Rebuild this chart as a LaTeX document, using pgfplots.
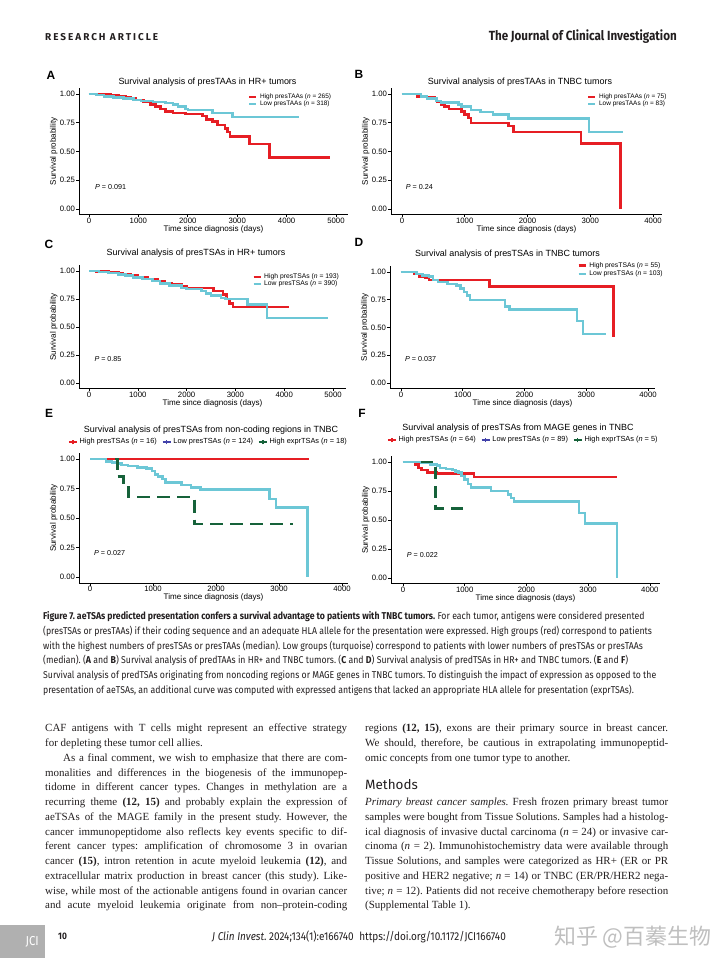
\documentclass[border=0pt]{standalone}
\usepackage{fontspec}
\usepackage{pgfplots}
\pgfplotsset{compat=1.18}
\setmainfont{Liberation Serif}
\newfontfamily\arial{Liberation Sans}
\newfontfamily\capfont[FakeStretch=0.88]{Fira Sans}
\newfontfamily\hdfont[LetterSpace=20]{Fira Sans}
\newfontfamily\secfont{Fira Sans}
\newfontfamily\cjk{Noto Sans CJK SC}
\frenchspacing

\definecolor{kmred}{RGB}{230,30,36}
\definecolor{kmturq}{RGB}{108,199,214}
\definecolor{kmgreen}{RGB}{22,98,58}
\definecolor{kmblue}{RGB}{66,66,170}
\definecolor{ink}{RGB}{35,31,32}

\pgfplotsset{
  km/.style={
    scale only axis, anchor=south west,
    axis x line*=bottom, axis y line*=left,
    axis line style={line width=0.8bp, black},
    tick style={line width=0.6bp, black},
    major tick length=2.6bp, tick align=outside,
    ymin=-0.05, ymax=1.05,
    ytick={0,0.25,0.5,0.75,1}, yticklabels={0.00,0.25,0.50,0.75,1.00},
    scaled ticks=false,
    tick label style={font=\fontsize{7.8}{8}\arial, black},
    xticklabel style={inner sep=0.8bp},
    yticklabel style={inner sep=1.2bp},
    xlabel={Time since diagnosis (days)}, ylabel={Survival probability},
    label style={font=\fontsize{8.1}{9}\arial},
    xlabel style={inner sep=1bp},
    ylabel style={inner sep=1bp},
    const plot, no markers, clip=false,
    every axis plot/.append style={line width=2.5bp, line cap=butt, line join=miter},
    legend cell align=left,
  },
  kmleg/.style={
    legend style={draw=none, fill=none, inner sep=0pt, anchor=north west, row sep=0pt,
      font=\fontsize{#1}{8}\arial,
      nodes={inner sep=0.4bp, text height=4.7bp, text depth=1.3bp},
      /tikz/every odd column/.append style={column sep=2bp}},
    legend image code/.code={\draw[##1, line width=2.6bp] (0bp,0bp) -- (7bp,0bp);},
  },
  kmlegrow/.style={
    legend columns=3,
    legend style={draw=none, fill=none, inner sep=0pt, anchor=west, row sep=0pt,
      font=\fontsize{7.4}{8}\arial,
      nodes={inner sep=0.5bp, text height=5.3bp, text depth=1.5bp},
      /tikz/every odd column/.append style={column sep=1.5bp},
      /tikz/every even column/.append style={column sep=4.5bp}},
  },
  plusleg/.style={legend image code/.code={
    \draw[#1, solid, line width=1.5bp] (0bp,0bp) -- (8bp,0bp);
    \draw[#1, solid, line width=1.3bp] (4bp,-2.4bp) -- (4bp,2.4bp);}},
}

\newcommand\ttl[3]{\node[font=\fontsize{9}{10}\arial, black] at (#1bp,-#2bp) {#3};}
\newcommand\plab[3]{\node[font=\fontsize{12}{12}\arial\bfseries, black] at (#1bp,-#2bp) {#3};}
\newcommand\pval[3]{\node[anchor=west, inner sep=0pt, font=\fontsize{7.2}{8}\arial, black] at (#1bp,-#2bp) {\textit{P} = #3};}
\newcommand\capl[2]{\node[anchor=base west, inner sep=0pt, text=ink, font=\capfont\fontsize{9.95}{12}\selectfont] at (43bp,-#1bp) {#2};}
\newcommand\bodyj[4]{\node[anchor=base west, inner sep=0pt, text=ink, font=\fontsize{11}{13}\selectfont] at (#1bp,-#2bp) {\makebox[#3bp][s]{#4}};}
\newcommand\bodyn[3]{\node[anchor=base west, inner sep=0pt, text=ink, font=\fontsize{11}{13}\selectfont] at (#1bp,-#2bp) {#3};}

\begin{document}
\begin{tikzpicture}
\fill[white] (0,0) rectangle (720bp,-964bp);
\path[use as bounding box] (0,0) rectangle (720bp,-964bp);

% header
\node[anchor=west, inner sep=0pt, text=ink, font=\hdfont\bfseries\fontsize{10}{11}\selectfont] at (45bp,-37bp) {RESEARCH ARTICLE};
\node[anchor=east, inner sep=0pt, text=ink, font=\capfont\bfseries\fontsize{13.3}{14}\selectfont] at (677bp,-37bp) {The Journal of Clinical Investigation};

% ---------- A ----------
\begin{axis}[km, kmleg=6.5, at={(79bp,-214.75bp)}, width=269bp, height=126.5bp,
  xmin=-202, xmax=5243, xtick={0,1000,2000,3000,4000,5000},
  xticklabels={0,1000,2000,3000,4000,5000},
  legend style={at={(0.628,0.958)}}]
\addplot[kmred] coordinates {(0,1) (250,0.995) (450,0.99) (600,0.98) (750,0.97) (850,0.96) (950,0.95) (1100,0.93) (1250,0.91) (1350,0.89) (1450,0.87) (1550,0.85) (1700,0.835) (1950,0.825) (2300,0.81) (2380,0.78) (2500,0.76) (2600,0.73) (2750,0.70) (2800,0.67) (2850,0.63) (3250,0.565) (3650,0.45) (4880,0.45)};
\addlegendentry{High presTAAs (\textit{n} = 265)}
\addplot[kmturq] coordinates {(0,1) (150,0.99) (300,0.98) (500,0.97) (700,0.96) (900,0.95) (1050,0.94) (1300,0.93) (1550,0.92) (1700,0.91) (1800,0.89) (1950,0.87) (2000,0.86) (2500,0.835) (2900,0.80) (4250,0.80)};
\addlegendentry{Low presTAAs (\textit{n} = 318)}
\end{axis}

% ---------- B ----------
\begin{axis}[km, kmleg=6.5, at={(391bp,-214.75bp)}, width=271bp, height=126.5bp,
  xmin=-175, xmax=4143, xtick={0,1000,2000,3000,4000},
  xticklabels={0,1000,2000,3000,4000},
  legend style={at={(0.723,0.958)}}]
\addplot[kmred] coordinates {(0,1) (250,0.98) (400,0.97) (520,0.955) (560,0.93) (620,0.91) (680,0.89) (750,0.87) (950,0.85) (1000,0.82) (1060,0.79) (1100,0.75) (1700,0.72) (1780,0.67) (2850,0.57) (3480,0.0)};
\addlegendentry{High presTAAs (\textit{n} = 75)}
\addplot[kmturq] coordinates {(0,1) (300,0.98) (400,0.96) (550,0.94) (620,0.925) (900,0.91) (950,0.89) (1100,0.86) (1250,0.845) (1450,0.82) (1700,0.785) (2980,0.67) (3520,0.67)};
\addlegendentry{Low presTAAs (\textit{n} = 83)}
\end{axis}

% ---------- C ----------
\begin{axis}[km, kmleg=6.8, at={(79bp,-388.6bp)}, width=267bp, height=123.2bp,
  xmin=-205, xmax=5266, xtick={0,1000,2000,3000,4000,5000},
  xticklabels={0,1000,2000,3000,4000,5000},
  legend style={at={(0.648,0.934)}}]
\addplot[kmred] coordinates {(0,1) (150,0.995) (400,0.99) (600,0.98) (700,0.97) (850,0.96) (1000,0.945) (1200,0.93) (1400,0.91) (1550,0.89) (1700,0.88) (1900,0.86) (2000,0.85) (2550,0.82) (2750,0.79) (2820,0.75) (2880,0.71) (2950,0.68) (4100,0.68)};
\addlegendentry{High presTSAs (\textit{n} = 193)}
\addplot[kmturq] coordinates {(0,1) (200,0.99) (400,0.98) (600,0.97) (750,0.96) (900,0.94) (1100,0.93) (1300,0.91) (1450,0.89) (1650,0.87) (1900,0.85) (2000,0.84) (2300,0.82) (2400,0.80) (2500,0.78) (2700,0.76) (2800,0.75) (3250,0.70) (3650,0.58) (4900,0.58)};
\addlegendentry{Low presTSAs (\textit{n} = 390)}
\end{axis}

% ---------- D ----------
\begin{axis}[km, kmleg=6.8, at={(390bp,-388.55bp)}, width=265bp, height=122.1bp,
  xmin=-178, xmax=4113, xtick={0,1000,2000,3000,4000},
  xticklabels={0,1000,2000,3000,4000},
  legend style={at={(0.706,1.04)}, nodes={inner sep=0.5bp, text height=5.3bp, text depth=1.6bp}, row sep=0.3bp}]
\addplot[kmred] coordinates {(0,1) (220,0.98) (300,0.96) (400,0.95) (450,0.93) (1430,0.87) (3440,0.43) (3460,0.43)};
\addlegendentry{High presTSAs (\textit{n} = 55)}
\addplot[kmturq] coordinates {(0,1) (250,0.98) (350,0.97) (450,0.96) (520,0.93) (600,0.91) (750,0.89) (900,0.88) (960,0.85) (1020,0.82) (1070,0.79) (1120,0.75) (1680,0.69) (1760,0.66) (2850,0.56) (2950,0.44) (3320,0.44)};
\addlegendentry{Low presTSAs (\textit{n} = 103)}
\end{axis}

% ---------- E ----------
\begin{axis}[km, kmlegrow, at={(79bp,-582.9bp)}, width=269bp, height=129.8bp,
  xmin=-175, xmax=4095, xtick={0,1000,2000,3000,4000},
  xticklabels={0,1000,2000,3000,4000},
  legend style={at={(-0.041,1.0855)}}]
\addplot[kmred, plusleg=kmred] coordinates {(0,1) (3470,1)};
\addlegendentry{High presTSAs (\textit{n} = 16)}
\addplot[kmturq, plusleg=kmblue] coordinates {(0,1) (250,0.98) (350,0.97) (430,0.96) (500,0.95) (600,0.94) (750,0.93) (900,0.92) (980,0.90) (1030,0.87) (1080,0.85) (1150,0.83) (1200,0.80) (1450,0.78) (1600,0.76) (1750,0.74) (2850,0.66) (2950,0.59) (3450,0.0)};
\addlegendentry{Low presTSAs (\textit{n} = 124)}
\addplot[kmgreen, dash pattern=on 13bp off 7bp, plusleg=kmgreen] coordinates {(400,1) (435,0.85) (530,0.76) (610,0.68) (1660,0.45) (3220,0.45)};
\addlegendentry{High exprTSAs (\textit{n} = 18)}
\end{axis}

% ---------- F ----------
\begin{axis}[km, kmlegrow, at={(391bp,-583.8bp)}, width=269bp, height=127.6bp,
  xmin=-194, xmax=4165, xtick={0,1000,2000,3000,4000},
  xticklabels={0,1000,2000,3000,4000},
  legend style={at={(-0.015,1.127)}}]
\addplot[kmred, plusleg=kmred] coordinates {(0,1) (200,0.98) (250,0.95) (300,0.93) (400,0.91) (550,0.90) (1150,0.87) (3460,0.87)};
\addlegendentry{High presTSAs (\textit{n} = 64)}
\addplot[kmturq, plusleg=kmblue] coordinates {(0,1) (300,0.99) (450,0.98) (550,0.97) (600,0.95) (700,0.94) (800,0.93) (850,0.92) (900,0.91) (950,0.88) (1000,0.85) (1050,0.81) (1100,0.78) (1430,0.75) (1700,0.72) (1750,0.69) (1800,0.66) (2850,0.56) (2950,0.47) (3470,0.0)};
\addlegendentry{Low presTSAs (\textit{n} = 89)}
\addplot[kmgreen, dash pattern=on 12bp off 7bp, plusleg=kmgreen] coordinates {(300,1) (530,0.60) (1070,0.60)};
\addlegendentry{High exprTSAs (\textit{n} = 5)}
\end{axis}

% titles, panel letters, P values
\ttl{207.5}{81.7}{Survival analysis of presTAAs in HR+ tumors}
\ttl{520}{81.7}{Survival analysis of presTAAs in TNBC tumors}
\ttl{196}{253.3}{Survival analysis of presTSAs in HR+ tumors}
\ttl{507.5}{254}{Survival analysis of presTSAs in TNBC tumors}
\ttl{211}{430}{Survival analysis of presTSAs from non-coding regions in TNBC}
\ttl{518}{428.3}{Survival analysis of presTSAs from MAGE genes in TNBC}
\plab{51}{75.5}{A}
\plab{359}{74}{B}
\plab{49}{244}{C}
\plab{359}{242.5}{D}
\plab{49}{413}{E}
\plab{362}{413}{F}
\pval{95}{186.7}{0.091}
\pval{405.7}{186.7}{0.24}
\pval{94.3}{359}{0.85}
\pval{405}{359.3}{0.037}
\pval{94}{552.7}{0.027}
\pval{406.7}{555}{0.022}

% caption
\capl{619.5}{{\bfseries Figure 7. aeTSAs predicted presentation confers a survival advantage to patients with TNBC tumors.} For each tumor, antigens were considered presented}
\capl{634.3}{(presTSAs or presTAAs) if their coding sequence and an adequate HLA allele for the presentation were expressed. High groups (red) correspond to patients}
\capl{649.1}{with the highest numbers of presTSAs or presTAAs (median). Low groups (turquoise) correspond to patients with lower numbers of presTSAs or presTAAs}
\capl{663.9}{(median). ({\bfseries A} and {\bfseries B}) Survival analysis of predTAAs in HR+ and TNBC tumors. ({\bfseries C} and {\bfseries D}) Survival analysis of predTSAs in HR+ and TNBC tumors. ({\bfseries E} and {\bfseries F})}
\capl{678.7}{Survival analysis of predTSAs originating from noncoding regions or MAGE genes in TNBC tumors. To distinguish the impact of expression as opposed to the}
\capl{693.5}{presentation of aeTSAs, an additional curve was computed with expressed antigens that lacked an appropriate HLA allele for presentation (exprTSAs).}

% body, left column
\bodyj{45}{731.8}{302}{CAF antigens with T cells might represent an effective strategy}
\bodyn{45}{746.55}{for depleting these tumor cell allies.}
\bodyj{63}{761.3}{284}{As a final comment, we wish to emphasize that there are com-}
\bodyj{45}{776.05}{302}{monalities and differences in the biogenesis of the immunopep-}
\bodyj{45}{790.8}{302}{tidome in different cancer types. Changes in methylation are a}
\bodyj{45}{805.55}{302}{recurring theme \textbf{(12, 15)} and probably explain the expression of}
\bodyj{45}{820.3}{302}{aeTSAs of the MAGE family in the present study. However, the}
\bodyj{45}{835.05}{302}{cancer immunopeptidome also reflects key events specific to dif-}
\bodyj{45}{849.8}{302}{ferent cancer types: amplification of chromosome 3 in ovarian}
\bodyj{45}{864.55}{302}{cancer \textbf{(15)}, intron retention in acute myeloid leukemia \textbf{(12)}, and}
\bodyj{45}{879.3}{302}{extracellular matrix production in breast cancer (this study). Like-}
\bodyj{45}{894.05}{302}{wise, while most of the actionable antigens found in ovarian cancer}
\bodyj{45}{908.8}{302}{and acute myeloid leukemia originate from non\textendash protein-coding}

% body, right column
\bodyj{365}{731.8}{303}{regions \textbf{(12, 15)}, exons are their primary source in breast cancer.}
\bodyj{365}{746.55}{303}{We should, therefore, be cautious in extrapolating immunopeptid-}
\bodyn{365}{761.3}{omic concepts from one tumor type to another.}
\node[anchor=base west, inner sep=0pt, text=ink, font=\secfont\fontsize{13.5}{15}\selectfont] at (365bp,-789.5bp) {Methods};
\bodyj{365}{805.55}{303}{\textit{Primary breast cancer samples.} Fresh frozen primary breast tumor}
\bodyj{365}{820.3}{303}{samples were bought from Tissue Solutions. Samples had a histolog-}
\bodyj{365}{835.05}{303}{ical diagnosis of invasive ductal carcinoma (\textit{n} = 24) or invasive car-}
\bodyj{365}{849.8}{303}{cinoma (\textit{n} = 2). Immunohistochemistry data were available through}
\bodyj{365}{864.55}{303}{Tissue Solutions, and samples were categorized as HR+ (ER or PR}
\bodyj{365}{879.3}{303}{positive and HER2 negative; \textit{n} = 14) or TNBC (ER/PR/HER2 nega-}
\bodyj{365}{894.05}{303}{tive; \textit{n} = 12). Patients did not receive chemotherapy before resection}
\bodyn{365}{908.8}{(Supplemental Table 1).}

% footer
\fill[gray!62] (0,-925bp) rectangle (45bp,-958bp);
\node[anchor=east, inner sep=0pt, text=white, font=\capfont\fontsize{13}{14}\selectfont] at (39bp,-941.5bp) {JCI};
\node[anchor=west, inner sep=0pt, text=ink, font=\capfont\bfseries\fontsize{9.5}{10}\selectfont] at (58bp,-936.5bp) {10};
\node[anchor=west, inner sep=0pt, text=ink, font=\capfont\fontsize{11.4}{12}\selectfont] at (212bp,-936.5bp) {\textit{J Clin Invest}. 2024;134(1):e166740\enspace https://doi.org/10.1172/JCI166740};
\node[anchor=west, inner sep=0pt, text=gray!50, font=\cjk\fontsize{22}{24}\selectfont] at (554bp,-937bp) {知乎 @百蓁生物};
\end{tikzpicture}
\end{document}
